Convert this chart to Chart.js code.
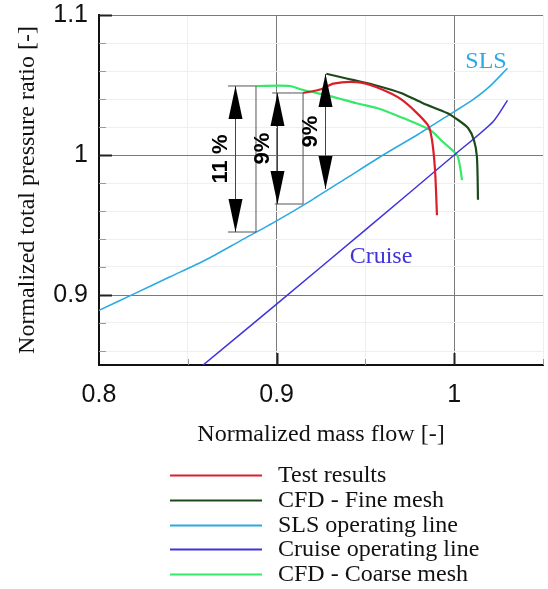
<!DOCTYPE html>
<html><head><meta charset="utf-8">
<script src="https://cdn.jsdelivr.net/npm/chart.js@4/dist/chart.umd.min.js"></script>
<style>html,body{margin:0;padding:0;background:#fff;}</style>
</head><body>
<canvas id="c" width="548" height="589"></canvas>
<script>
// ---- data ----
const testX = [0.9149, 0.925, 0.932, 0.945, 0.956, 0.9706, 0.9852, 0.9875, 0.9892, 0.9903];
const testY = [1.0443, 1.047, 1.051, 1.052, 1.0485, 1.0393, 1.0214, 1.0107, 0.9893, 0.957];

const fineX = [0.928, 0.94, 0.955, 0.97, 0.9824, 0.996, 1.0022, 1.0078, 1.0111, 1.0128, 1.0134];
const fineY = [1.058, 1.0545, 1.050, 1.0443, 1.037, 1.030, 1.025, 1.0193, 1.0107, 0.9986, 0.968];

const slsX = [0.80, 0.82, 0.84, 0.86, 0.88, 0.90, 0.92, 0.94, 0.96, 0.98, 1.00, 1.01, 1.02, 1.03];
const slsY = [0.889, 0.901, 0.913, 0.925, 0.939, 0.953, 0.968, 0.984, 1.000, 1.015, 1.031, 1.039, 1.049, 1.062];

const cruiseX = [0.8586, 0.90, 0.95, 1.00, 1.022, 1.030];
const cruiseY = [0.850, 0.8935, 0.9465, 1.000, 1.024, 1.039];

const coarseX = [0.8884, 0.9075, 0.915, 0.93, 0.945, 0.9582, 0.9712, 0.9864, 0.9937, 1.0016, 1.0033, 1.0044];
const coarseY = [1.0493, 1.0493, 1.0464, 1.0421, 1.037, 1.0329, 1.0264, 1.0179, 1.0093, 1.0, 0.9914, 0.9821];

const seriesLabels = ['Test results', 'CFD - Fine mesh', 'SLS operating line', 'Cruise operating line', 'CFD - Coarse mesh'];

// axis ticks
const xTicks = [0.80, 0.85, 0.90, 0.95, 1.00, 1.05];
const xTickLabels = ['0.8', '', '0.9', '', '1', ''];
const yTicks = [0.86, 0.88, 0.90, 0.92, 0.94, 0.96, 0.98, 1.00, 1.02, 1.04, 1.06, 1.08, 1.10];
const yTickLabels = ['', '', '0.9', '', '', '', '', '1', '', '', '', '', '1.1'];

// dimension arrows (data units)
const arrowX = [0.8766, 0.900, 0.9273];
const arrowTop = [1.0493, 1.0443, 1.0579];
const arrowBottom = [0.945, 0.965, 0.9757];
const arrowLabels = ['11 %', '9%', '9%'];
// extension lines [x1, y1, x2, y2]
const extLines = [
  [0.8726, 1.0493, 0.8884, 1.0493],
  [0.8884, 1.0493, 0.8884, 0.945],
  [0.8726, 0.945, 0.8884, 0.945],
  [0.8975, 1.0443, 0.9149, 1.0443],
  [0.9149, 1.0443, 0.9149, 0.965],
  [0.899, 0.965, 0.9149, 0.965]
];
// in-plot curve labels
const curveLabelText = ['SLS', 'Cruise'];
const curveLabelX = [1.0179, 0.9588];
const curveLabelY = [1.0664, 0.9271];
const curveLabelSeries = [2, 3];

// ---- chart ----
const pts = (xs, ys) => xs.map((x, i) => ({x: x, y: ys[i]}));
const colors = ['#dc1e2a', '#1c4a1c', '#2aaae2', '#3f33dc', '#36e86c'];
const widths = [2.2, 2.2, 1.5, 1.5, 2.2];
const seriesData = [pts(testX, testY), pts(fineX, fineY), pts(slsX, slsY), pts(cruiseX, cruiseY), pts(coarseX, coarseY)];

const extras = {
  id: 'extras',
  afterDatasetsDraw(chart) {
    const {ctx, scales: {x, y}} = chart;
    ctx.save();
    ctx.strokeStyle = '#555';
    ctx.lineWidth = 1;
    extLines.forEach(s => {
      ctx.beginPath();
      ctx.moveTo(x.getPixelForValue(s[0]), y.getPixelForValue(s[1]));
      ctx.lineTo(x.getPixelForValue(s[2]), y.getPixelForValue(s[3]));
      ctx.stroke();
    });
    arrowX.forEach((v, i) => {
      const px = Math.round(x.getPixelForValue(v)) + 0.5;
      const pt = y.getPixelForValue(arrowTop[i]);
      const pb = y.getPixelForValue(arrowBottom[i]);
      ctx.strokeStyle = '#444'; ctx.lineWidth = 1;
      ctx.beginPath(); ctx.moveTo(px, pt); ctx.lineTo(px, pb); ctx.stroke();
      const L = 33, W = 7;
      ctx.fillStyle = '#000';
      ctx.beginPath(); ctx.moveTo(px, pt); ctx.lineTo(px - W, pt + L); ctx.lineTo(px + W, pt + L); ctx.closePath(); ctx.fill();
      ctx.beginPath(); ctx.moveTo(px, pb); ctx.lineTo(px - W, pb - L); ctx.lineTo(px + W, pb - L); ctx.closePath(); ctx.fill();
      ctx.save();
      ctx.translate(px - 15, (pt + pb) / 2);
      ctx.rotate(-Math.PI / 2);
      ctx.font = 'bold 22px "Liberation Sans", Arial, sans-serif';
      ctx.textAlign = 'center'; ctx.textBaseline = 'middle';
      ctx.fillText(arrowLabels[i], 0, 0);
      ctx.restore();
    });
    curveLabelText.forEach((t, i) => {
      ctx.fillStyle = chart.data.datasets[curveLabelSeries[i]].borderColor;
      ctx.font = '24px "Liberation Serif", "Times New Roman", serif';
      ctx.textAlign = 'center'; ctx.textBaseline = 'middle';
      ctx.fillText(t, x.getPixelForValue(curveLabelX[i]), y.getPixelForValue(curveLabelY[i]));
    });
    ctx.restore();
  },
  afterDraw(chart) {
    const {ctx, chartArea: a, scales: {x, y}} = chart;
    ctx.save();
    // inward ticks
    y.ticks.forEach((t, i) => {
      const major = yTickLabels[i] !== '';
      const py = Math.round(y.getPixelForValue(t.value)) + 0.5;
      ctx.strokeStyle = major ? '#222' : '#999';
      ctx.lineWidth = major ? 2 : 1;
      ctx.beginPath(); ctx.moveTo(a.left, py); ctx.lineTo(a.left + (major ? 13 : 7), py); ctx.stroke();
    });
    x.ticks.forEach((t, i) => {
      if (i === 0) return;
      const major = xTickLabels[i] !== '';
      const px = Math.round(x.getPixelForValue(t.value)) + 0.5;
      ctx.strokeStyle = major ? '#222' : '#999';
      ctx.lineWidth = major ? 2 : 1;
      ctx.beginPath(); ctx.moveTo(px, a.bottom); ctx.lineTo(px, a.bottom - (major ? 12 : 6)); ctx.stroke();
    });
    // legend
    const top = a.bottom + 110;
    chart.data.datasets.forEach((ds, i) => {
      const yy = Math.round(top + i * 24.8) + 0.5;
      ctx.strokeStyle = ds.borderColor; ctx.lineWidth = 2;
      ctx.beginPath(); ctx.moveTo(170, yy); ctx.lineTo(262, yy); ctx.stroke();
      ctx.fillStyle = '#111';
      ctx.font = '24px "Liberation Serif", "Times New Roman", serif';
      ctx.textAlign = 'left'; ctx.textBaseline = 'middle';
      ctx.fillText(ds.label, 278, yy);
    });
    ctx.restore();
  }
};

new Chart(document.getElementById('c'), {
  type: 'line',
  data: {
    datasets: seriesData.map((d, i) => ({
      label: seriesLabels[i], data: d, borderColor: colors[i], backgroundColor: colors[i],
      borderWidth: widths[i], pointRadius: 0, tension: 0.25, fill: false
    }))
  },
  options: {
    responsive: false, animation: false, devicePixelRatio: 1,
    layout: {padding: {left: 0, right: 5, top: 15, bottom: 129}},
    plugins: {legend: {display: false}, tooltip: {enabled: false}},
    scales: {
      x: {
        type: 'linear', min: 0.8, max: 1.05,
        afterBuildTicks: s => { s.ticks = xTicks.map(v => ({value: v})); },
        afterFit: s => { s.height = 95; s.paddingLeft = 0; s.paddingRight = 0; },
        ticks: {autoSkip: false, maxRotation: 0, padding: 15, color: '#111',
          font: {family: '"Liberation Sans", Arial, sans-serif', size: 25},
          callback: (v, i) => xTickLabels[i]},
        grid: {drawTicks: false, color: c => (xTickLabels[c.index] ? '#7a7a7a' : '#efefef'), lineWidth: 1},
        border: {display: true, color: '#111', width: 2},
        title: {display: true, text: 'Normalized mass flow [-]', color: '#111',
          font: {family: '"Liberation Serif", "Times New Roman", serif', size: 24},
          padding: {top: 0, bottom: 11}}
      },
      y: {
        type: 'linear', min: 0.85, max: 1.1,
        afterBuildTicks: s => { s.ticks = yTicks.map(v => ({value: v})); },
        afterFit: s => { s.width = 99; s.paddingTop = 0; s.paddingBottom = 0; },
        ticks: {autoSkip: false, padding: 11, color: '#111',
          font: {family: '"Liberation Sans", Arial, sans-serif', size: 25},
          callback: (v, i) => yTickLabels[i]},
        grid: {drawTicks: false, color: c => (yTickLabels[c.index] ? '#7a7a7a' : '#efefef'), lineWidth: 1},
        border: {display: true, color: '#111', width: 2},
        title: {display: true, text: 'Normalized total pressure ratio [-]', color: '#111',
          font: {family: '"Liberation Serif", "Times New Roman", serif', size: 24},
          padding: {top: 13, bottom: 0}}
      }
    }
  },
  plugins: [extras]
});
</script>
</body></html>
